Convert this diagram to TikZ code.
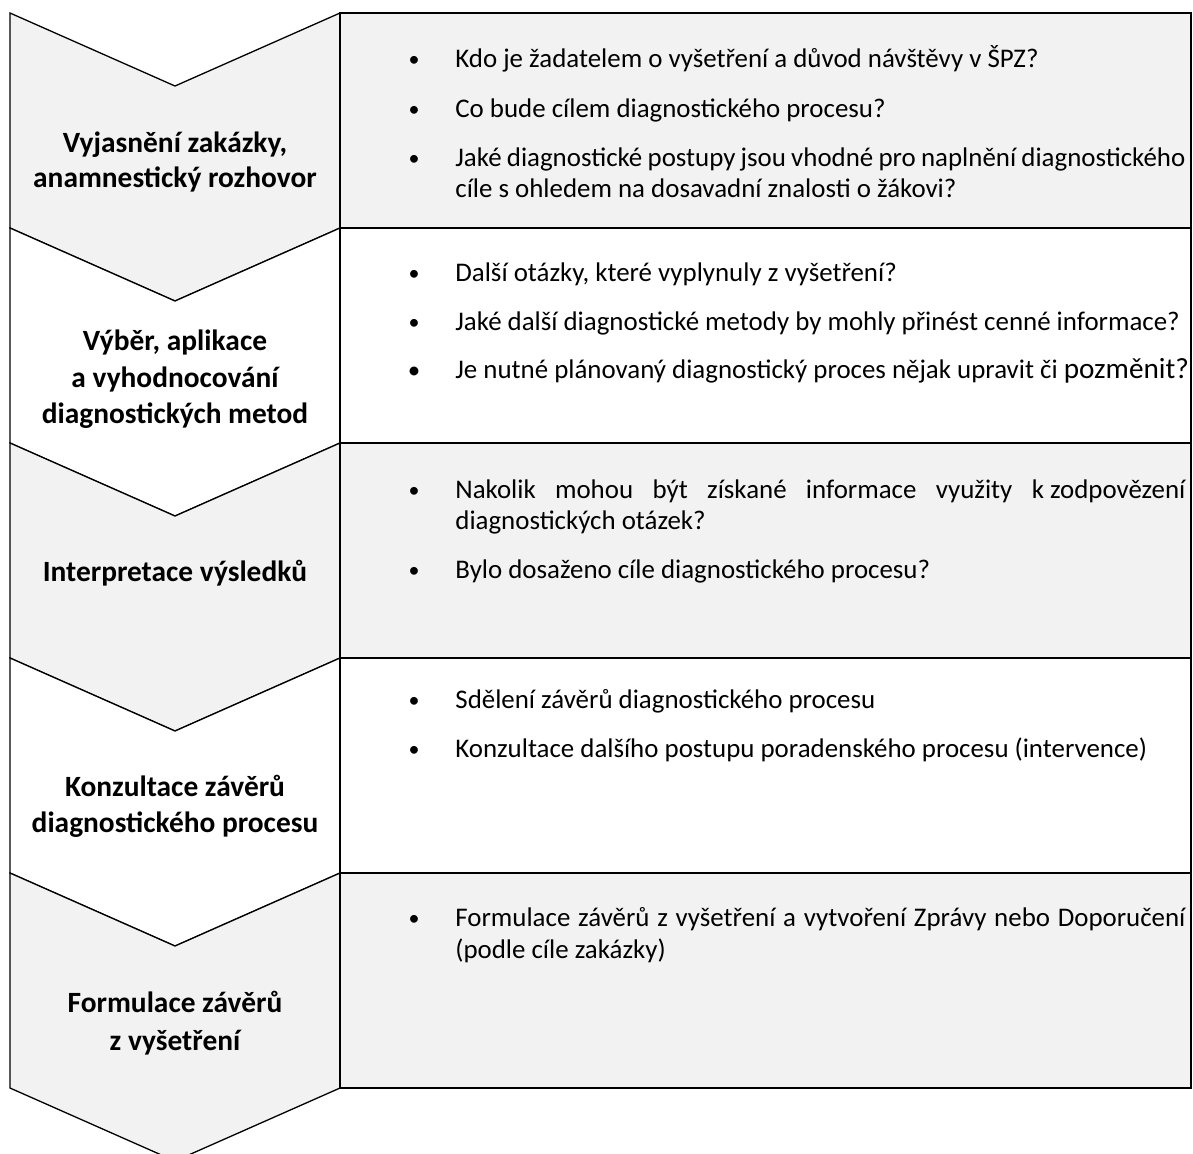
\documentclass[tikz,border=0pt]{standalone}
\usepackage{fontspec}
\setmainfont{Carlito}
\definecolor{lightg}{HTML}{F2F2F2}
\begin{document}
\begin{tikzpicture}[x=0.5pt,y=-0.5pt,
  chev/.style={draw=black, line width=0.65pt, line join=miter},
  rbox/.style={draw=black, line width=1.2pt},
  lbl/.style={font=\fontsize{14.7}{18}\selectfont\bfseries, anchor=base, inner sep=0pt},
  txt/.style={font=\fontsize{13.45}{16}\selectfont, anchor=base west, inner sep=0pt},
  bul/.style={font=\fontsize{11}{13}\selectfont, anchor=base, inner sep=0pt}]
\useasboundingbox (0,0) rectangle (1193,1153);
\clip (0,0) rectangle (1193,1153);
% chevrons
\foreach \i/\f in {0/lightg,1/white,2/lightg,3/white,4/lightg}{
  \pgfmathsetmacro{\T}{13+215*\i}
  \filldraw[chev, fill=\f] (10,\T) -- (175,\T+73) -- (340,\T) -- (340,\T+215) -- (175,\T+288) -- (10,\T+215) -- cycle;
}
% right boxes
\foreach \i/\f in {0/lightg,1/white,2/lightg,3/white,4/lightg}{
  \pgfmathsetmacro{\T}{13+215*\i}
  \filldraw[rbox, fill=\f] (340,\T) rectangle (1191,\T+215);
}
% left labels
\node[lbl] (l1a) at (175,152) {Vyjasnění zakázky,};
\node[lbl] (l1b) at (175,187) {anamnestický rozhovor};
\node[lbl] (l2a) at (175,350) {Výběr, aplikace};
\node[lbl] (l2b) at (175,387) {a vyhodnocování};
\node[lbl] (l2c) at (175,423) {diagnostických metod};
\node[lbl] (l3a) at (175,581) {Interpretace výsledků};
\node[lbl] (l4a) at (175,796) {Konzultace závěrů};
\node[lbl] (l4b) at (175,832) {diagnostického procesu};
\node[lbl] (l5a) at (175,1012) {Formulace závěrů};
\node[lbl] (l5b) at (175,1050) {z vyšetření};
% row 1
\node[bul] (b1a) at (414,66) {•};
\node[txt] (t1a) at (455,67) {Kdo je žadatelem o vyšetření a důvod návštěvy v ŠPZ?};
\node[bul] (b1b) at (414,116) {•};
\node[txt] (t1b) at (455,117) {Co bude cílem diagnostického procesu?};
\node[bul] (b1c) at (414,165) {•};
\node[txt] (t1c) at (455,166) {\makebox[365pt][s]{Jaké diagnostické postupy jsou vhodné pro naplnění diagnostického}};
\node[txt] (t1d) at (455,197) {cíle s ohledem na dosavadní znalosti o žákovi?};
% row 2
\node[bul] (b2a) at (414,280) {•};
\node[txt] (t2a) at (455,281) {Další otázky, které vyplynuly z vyšetření?};
\node[bul] (b2b) at (414,329) {•};
\node[txt] (t2b) at (455,330) {Jaké další diagnostické metody by mohly přinést cenné informace?};
\node[bul,font=\fontsize{12.5}{14}\selectfont] (b2c) at (414,378) {•};
\node[txt] (t2c) at (455,378) {Je nutné plánovaný diagnostický proces nějak upravit či {\fontsize{14.6}{17}\selectfont pozměnit?}};
% row 3
\node[bul] (b3a) at (414,497) {•};
\node[txt] (t3a) at (455,498) {\makebox[365pt][s]{Nakolik mohou být získané informace využity \mbox{k zodpovězení}}};
\node[txt] (t3b) at (455,529) {diagnostických otázek?};
\node[bul] (b3c) at (414,577) {•};
\node[txt] (t3c) at (455,578) {Bylo dosaženo cíle diagnostického procesu?};
% row 4
\node[bul] (b4a) at (414,707) {•};
\node[txt] (t4a) at (455,708) {Sdělení závěrů diagnostického procesu};
\node[bul] (b4b) at (414,756) {•};
\node[txt] (t4b) at (455,757) {Konzultace dalšího postupu poradenského procesu (intervence)};
% row 5
\node[bul] (b5a) at (414,925) {•};
\node[txt] (t5a) at (455,926) {\makebox[365pt][s]{Formulace závěrů z vyšetření a vytvoření Zprávy nebo Doporučení}};
\node[txt] (t5b) at (455,958) {(podle cíle zakázky)};
\end{tikzpicture}
\end{document}
